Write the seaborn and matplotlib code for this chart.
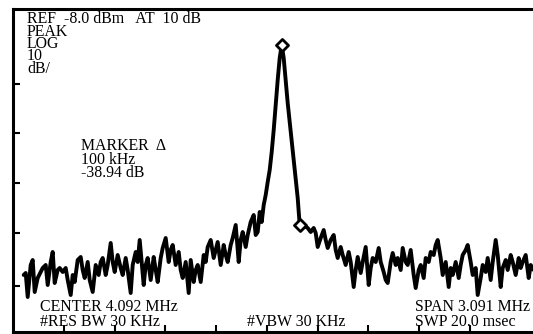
import matplotlib
matplotlib.use("Agg")
import matplotlib.pyplot as plt
import seaborn as sns
import pandas as pd

# ---- data ----
# sweep bin index (display column) and level in dBm
bins = [11, 13, 15, 18, 20, 22, 25, 28, 30, 33,
        35, 38, 40, 42, 45, 47, 50, 53, 55, 58,
        60, 62, 65, 68, 70, 72, 75, 77, 80, 83,
        86, 88, 90, 93, 95, 98, 100, 102, 105, 108,
        110, 113, 115, 118, 120, 123, 125, 127, 129, 131,
        133, 135, 138, 141, 143, 145, 148, 150, 153, 156,
        158, 160, 163, 166, 168, 170, 173, 176, 178, 181,
        183, 185, 188, 191, 193, 195, 198, 201, 203, 205,
        208, 211, 213, 215, 218, 220, 223, 226, 228, 230,
        233, 235, 238, 241, 243, 245, 247, 249, 251, 253,
        255, 257, 259, 261, 263, 265, 267, 269, 271, 273,
        275, 277, 279, 281, 283, 285, 287, 289, 292, 295,
        298, 301, 303, 305, 308, 311, 313, 315, 318, 321,
        323, 325, 328, 330, 333, 336, 338, 341, 343, 345,
        348, 350, 353, 356, 358, 360, 363, 366, 368, 371,
        373, 375, 378, 380, 383, 385, 388, 390, 393, 395,
        398, 401, 403, 406, 408, 411, 413, 416, 418, 421,
        423, 425, 428, 430, 433, 436, 438, 440, 443, 446,
        448, 450, 453, 455, 458, 460, 463, 465, 468, 470,
        473, 475, 478, 480, 483, 485, 488, 490, 493, 495,
        498, 500, 503, 506, 508, 510, 513, 516, 518, 521]
levels = [-61.2, -60.8, -65.6, -59.2, -58.2, -64.6, -61.8, -60.6, -59.8, -59.2,
          -63.2, -58.6, -56.6, -62.8, -60.2, -59.8, -60.6, -59.8, -62.2, -65.2,
          -61.2, -62.6, -58.2, -57.6, -60.2, -61.8, -58.6, -62.2, -64.6, -59.2,
          -61.2, -58.6, -57.8, -61.2, -59.2, -54.8, -58.6, -60.6, -57.2, -59.8,
          -61.2, -57.8, -60.2, -64.8, -59.2, -56.6, -58.6, -54.2, -58.6, -63.2,
          -59.2, -57.8, -62.2, -57.6, -60.2, -62.6, -57.8, -55.8, -53.8, -58.6,
          -56.2, -55.2, -59.2, -56.6, -60.2, -61.8, -58.6, -64.8, -58.2, -62.6,
          -60.2, -59.2, -62.6, -57.2, -58.6, -55.6, -54.2, -57.8, -56.2, -54.6,
          -59.2, -55.2, -57.2, -58.6, -55.2, -53.8, -51.2, -58.6, -54.2, -52.6,
          -55.6, -53.2, -50.6, -49.2, -53.2, -52.6, -48.6, -50.6, -47.2, -45.2,
          -42.6, -40.2, -36.6, -32.2, -27.2, -22.2, -17.8, -15.2, -17.8, -22.2,
          -26.8, -30.6, -34.2, -38.2, -42.2, -45.8, -51.2, -51.8, -51.4, -51.8,
          -52.6, -51.8, -52.8, -55.6, -53.8, -52.2, -54.2, -55.8, -54.2, -53.2,
          -56.2, -57.8, -55.6, -57.2, -59.2, -56.6, -58.6, -63.6, -60.2, -57.6,
          -60.8, -58.6, -55.6, -63.2, -59.8, -57.8, -58.6, -55.8, -58.6, -60.6,
          -62.2, -62.8, -58.6, -56.8, -59.2, -57.8, -60.2, -55.8, -58.6, -59.2,
          -56.2, -61.2, -63.8, -60.2, -59.2, -61.8, -57.8, -58.6, -56.6, -57.2,
          -55.2, -54.2, -57.8, -61.2, -58.6, -63.6, -59.8, -61.2, -58.6, -61.8,
          -59.2, -57.2, -56.2, -55.2, -58.6, -61.2, -59.8, -65.2, -61.8, -59.2,
          -60.6, -57.8, -62.2, -58.6, -54.2, -57.2, -63.6, -59.8, -58.2, -60.2,
          -57.2, -58.6, -61.2, -57.8, -59.8, -58.6, -57.2, -61.8, -59.2, -60.2]

marker_bins = [269, 287]
marker_levels = [-15.2, -51.2]

x_ticks = [51, 102, 152, 203, 254, 305, 355, 406, 457]
y_ticks = [-23.0, -32.8, -42.8, -52.8, -63.4]

header_lines = ["REF  -8.0 dBm   AT  10 dB", "PEAK", "LOG", "10", "dB/"]
marker_lines = ["MARKER  \u0394", "100 kHz", "-38.94 dB"]
footer_left = ["CENTER 4.092 MHz", "#RES BW 30 KHz"]
footer_mid = "#VBW 30 KHz"
footer_right = ["SPAN 3.091 MHz", "SWP 20.0 msec"]

# ---- plotting ----
sns.set_style("white")
plt.rcParams["font.family"] = ["Liberation Serif", "DejaVu Serif"]

W, H = 533, 334
fig = plt.figure(figsize=(W / 100, H / 100), dpi=100)
fig.patch.set_facecolor("white")
left_px, top_px, bottom_px = 12.7, 9, 332
ax = fig.add_axes([left_px / W, (H - bottom_px) / H, 1 - left_px / W, (bottom_px - top_px) / H])

trace = pd.DataFrame({"bin": bins, "level": levels})
sns.lineplot(data=trace, x="bin", y="level", ax=ax, color="black", linewidth=2.8,
             sort=False, estimator=None)
mk = pd.DataFrame({"bin": marker_bins, "level": marker_levels})
sns.scatterplot(data=mk, x="bin", y="level", ax=ax, marker="D", s=38,
                facecolor="white", edgecolor="black", linewidth=2.0, zorder=5)

ax.set_xlim(0, W - left_px)
ax.set_ylim(-72.6, -8.0)
ax.set_xticks(x_ticks)
ax.set_yticks(y_ticks)
ax.set_xticklabels([])
ax.set_yticklabels([])
ax.tick_params(axis="both", direction="in", length=5, width=1.5, color="black",
               bottom=True, left=True, top=False, right=False)
ax.set_xlabel("")
ax.set_ylabel("")
for side in ["left", "top", "bottom"]:
    ax.spines[side].set_visible(True)
    ax.spines[side].set_color("black")
    ax.spines[side].set_linewidth(2.2)
ax.spines["right"].set_visible(False)
ax.grid(False)

fs = 11.4


def put(x, y, s, ls=1.0):
    fig.text(x / W, 1 - y / H, s, fontsize=fs, ha="left", va="center", color="black",
             linespacing=ls)


put(27, 44, "\n".join(header_lines), ls=0.70)
put(81, 159.5, "\n".join(marker_lines), ls=0.82)
put(40, 314.5, "\n".join(footer_left), ls=0.98)
put(247, 322, footer_mid)
put(415, 314.5, "\n".join(footer_right), ls=0.98)

fig.savefig("out.png", dpi=100, facecolor="white")
